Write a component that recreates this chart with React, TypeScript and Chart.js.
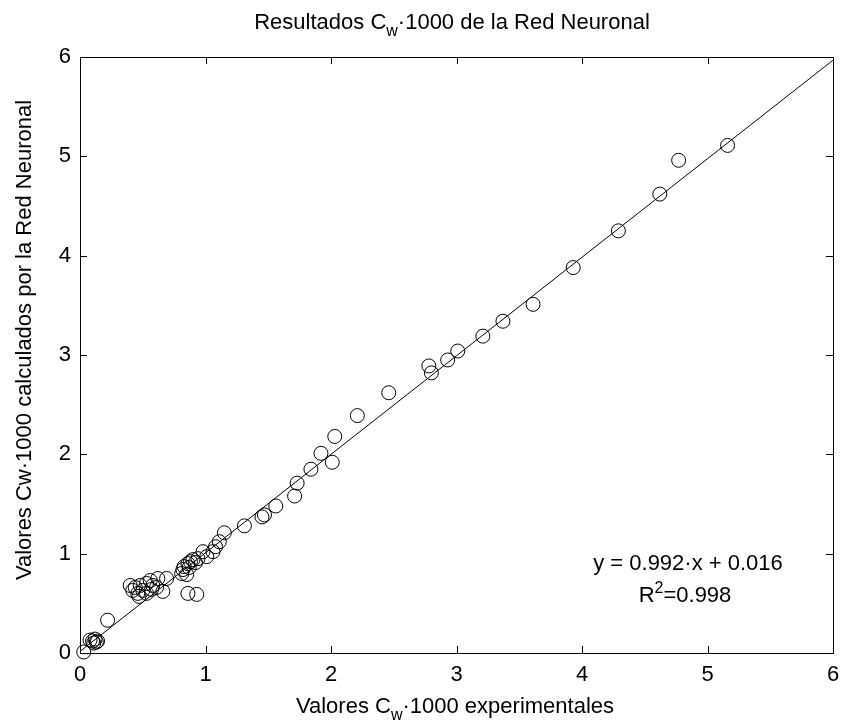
import React, { useEffect, useRef } from "react";
import { Chart, registerables } from "chart.js";

Chart.register(...registerables);

// Experimental values (x) and neural-network values (y)
const expX = [
  0.03, 0.08, 0.10, 0.12, 0.14, 0.11, 0.13, 0.22,
  0.40, 0.42, 0.44, 0.46, 0.48, 0.50, 0.53, 0.53, 0.56, 0.57, 0.58, 0.61, 0.62, 0.66, 0.69, 0.47,
  0.81, 0.82, 0.83, 0.85, 0.86, 0.87, 0.88, 0.90, 0.92, 0.94, 0.98, 1.01, 1.06, 1.08, 1.11, 1.15, 0.86, 0.93,
  1.31, 1.45, 1.47, 1.56, 1.71, 1.73, 1.84, 1.92, 2.01, 2.03, 2.21, 2.46,
  2.78, 2.80, 2.93, 3.01, 3.21, 3.37, 3.61, 3.93, 4.29, 4.62, 4.77, 5.16,
];
const predY = [
  0.01, 0.13, 0.12, 0.14, 0.12, 0.10, 0.11, 0.33,
  0.68, 0.63, 0.66, 0.60, 0.68, 0.63, 0.70, 0.60, 0.73, 0.64, 0.68, 0.66, 0.75, 0.62, 0.75, 0.57,
  0.80, 0.84, 0.87, 0.79, 0.90, 0.86, 0.92, 0.94, 0.91, 0.95, 1.02, 0.97, 1.02, 1.07, 1.12, 1.21, 0.60, 0.59,
  1.28, 1.37, 1.39, 1.48, 1.58, 1.71, 1.85, 2.01, 1.92, 2.18, 2.39, 2.62,
  2.89, 2.82, 2.95, 3.04, 3.19, 3.34, 3.51, 3.88, 4.25, 4.62, 4.96, 5.11,
];
// Regression line y = 0.992·x + 0.016 (end points)
const fitX = [0, 6];
const fitY = [0.016, 5.968];
const tickValues = [0, 1, 2, 3, 4, 5, 6];

const FONT = '"Liberation Sans", Arial, Helvetica, sans-serif';
const FS = 22;

type Part = [string, number]; // 0 normal, 1 subscript, 2 superscript

function drawRich(ctx: CanvasRenderingContext2D, parts: Part[], cx: number, baseline: number, size: number) {
  const main = `${size}px ${FONT}`;
  const small = `${Math.round(size * 0.72)}px ${FONT}`;
  let total = 0;
  const widths: number[] = [];
  for (const [t, m] of parts) {
    ctx.font = m === 0 ? main : small;
    const w = ctx.measureText(t).width;
    widths.push(w);
    total += w;
  }
  let x = cx - total / 2;
  ctx.textAlign = "left";
  ctx.textBaseline = "alphabetic";
  parts.forEach(([t, m], i) => {
    ctx.font = m === 0 ? main : small;
    const dy = m === 1 ? size * 0.32 : m === 2 ? -size * 0.42 : 0;
    ctx.fillText(t, x, baseline + dy);
    x += widths[i];
  });
}

const framePlugin = {
  id: "matlabFrame",
  afterDraw(chart: any) {
    const ctx: CanvasRenderingContext2D = chart.ctx;
    const { left, right, top, bottom } = chart.chartArea;
    const xs = chart.scales.x;
    const ys = chart.scales.y;
    ctx.save();
    ctx.strokeStyle = "#000";
    ctx.lineWidth = 1;
    ctx.strokeRect(Math.round(left) + 0.5, Math.round(top) + 0.5, Math.round(right - left), Math.round(bottom - top));
    const tl = 7;
    ctx.beginPath();
    for (const v of tickValues) {
      const px = Math.round(xs.getPixelForValue(v)) + 0.5;
      ctx.moveTo(px, bottom);
      ctx.lineTo(px, bottom - tl);
      ctx.moveTo(px, top);
      ctx.lineTo(px, top + tl);
      const py = Math.round(ys.getPixelForValue(v)) + 0.5;
      ctx.moveTo(left, py);
      ctx.lineTo(left + tl, py);
      ctx.moveTo(right, py);
      ctx.lineTo(right - tl, py);
    }
    ctx.stroke();

    ctx.fillStyle = "#000";
    // Title
    drawRich(ctx, [["Resultados C", 0], ["w", 1], ["·1000 de la Red Neuronal", 0]], 452, 29, FS);
    // X label
    drawRich(ctx, [["Valores C", 0], ["w", 1], ["·1000 experimentales", 0]], 455, 713, FS);
    // Y label
    ctx.save();
    ctx.translate(31, 340);
    ctx.rotate(-Math.PI / 2);
    drawRich(ctx, [["Valores Cw·1000 calculados por la Red Neuronal", 0]], 0, 0, FS);
    ctx.restore();
    // Equation annotation
    drawRich(ctx, [["y = 0.992·x + 0.016", 0]], 688, 570, FS);
    drawRich(ctx, [["R", 0], ["2", 2], ["=0.998", 0]], 685, 602, FS);
    ctx.restore();
  },
};

export default function App() {
  const ref = useRef<HTMLCanvasElement | null>(null);

  useEffect(() => {
    if (!ref.current) return;
    const points = expX.map((x, i) => ({ x, y: predY[i] }));
    const line = fitX.map((x, i) => ({ x, y: fitY[i] }));
    const chart = new Chart(ref.current, {
      type: "scatter",
      data: {
        datasets: [
          {
            data: points,
            pointStyle: "circle",
            pointRadius: 7,
            pointHoverRadius: 7,
            pointBorderColor: "#000",
            pointBackgroundColor: "rgba(0,0,0,0)",
            pointBorderWidth: 1,
            borderColor: "#000",
            backgroundColor: "rgba(0,0,0,0)",
            clip: false as any,
          },
          {
            data: line,
            showLine: true,
            borderColor: "#000",
            borderWidth: 1,
            pointRadius: 0,
            pointHoverRadius: 0,
          },
        ],
      },
      options: {
        responsive: false,
        animation: false,
        devicePixelRatio: 1,
        events: [],
        layout: { padding: { top: 57, right: 7, left: 0, bottom: 0 } },
        plugins: {
          legend: { display: false },
          tooltip: { enabled: false },
          title: { display: false },
        },
        scales: {
          x: {
            type: "linear",
            min: 0,
            max: 6,
            grid: { display: false, drawTicks: false },
            border: { display: false },
            ticks: {
              stepSize: 1,
              color: "#000",
              padding: 9,
              font: { family: FONT, size: FS },
              maxRotation: 0,
            },
            afterFit: (s: any) => {
              s.height = 720 - 653;
              s.paddingLeft = 0;
              s.paddingRight = 0;
            },
          },
          y: {
            type: "linear",
            min: 0,
            max: 6,
            grid: { display: false, drawTicks: false },
            border: { display: false },
            ticks: {
              stepSize: 1,
              color: "#000",
              padding: 9,
              font: { family: FONT, size: FS },
            },
            afterFit: (s: any) => {
              s.width = 80;
              s.paddingTop = 0;
              s.paddingBottom = 0;
            },
          },
        },
      },
      plugins: [framePlugin],
    });
    return () => chart.destroy();
  }, []);

  return (
    <div style={{ position: "absolute", left: 0, top: 0, width: 841, height: 720, background: "#fff" }}>
      <canvas ref={ref} width={841} height={720} style={{ width: 841, height: 720, display: "block" }} />
    </div>
  );
}
